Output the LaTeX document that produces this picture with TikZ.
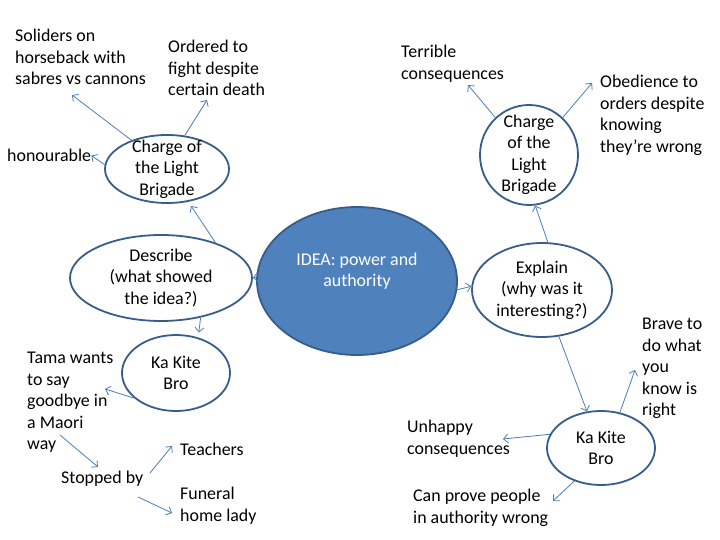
\documentclass[tikz,border=0pt]{standalone}
\usepackage{fontspec}
\setmainfont{Carlito}
\usetikzlibrary{shapes.geometric,arrows.meta}
\definecolor{ideablue}{HTML}{4F81BD}
\definecolor{rimblue}{HTML}{385D8A}
\definecolor{linkblue}{HTML}{4A7EBB}
\newcommand{\mapfont}{\fontsize{17.9}{21.5}\selectfont}
\begin{document}
\begin{tikzpicture}[x=1pt, y=-1pt,
  bubble/.style={ellipse, draw=rimblue, line width=1.8pt, fill=white, inner sep=0pt},
  lbl/.style={align=center, font=\mapfont, text=black},
  txt/.style={anchor=north west, align=left, inner sep=0pt, font=\mapfont},
  arr/.style={draw=linkblue, line width=0.8pt, -{Straight Barb[length=4.5pt,width=9pt]}}]
  \useasboundingbox (0,0) rectangle (720,540);
  \node[bubble, fill=ideablue, minimum width=200pt, minimum height=148pt,
    label={[lbl, text=white, yshift=10pt]center:IDEA: power and\\authority}] (idea) at (357,281) {};
  \node[bubble, minimum width=182pt, minimum height=86pt,
    label={[lbl]center:Describe\\(what showed\\the idea?)}] (desc) at (161,278) {};
  \node[bubble, minimum width=140pt, minimum height=94pt,
    label={[lbl]center:Explain\\(why was it\\interesting?)}] (expl) at (542,290) {};
  \node[bubble, minimum width=124pt, minimum height=68pt,
    label={[lbl]center:Charge of\\the Light\\Brigade}] (clbL) at (167,169) {};
  \node[bubble, minimum width=98pt, minimum height=100pt,
    label={[lbl]center:Charge\\of the\\Light\\Brigade}] (clbR) at (529,155) {};
  \node[bubble, minimum width=108pt, minimum height=76pt,
    label={[lbl]center:Ka Kite\\Bro}] (kkL) at (176,373) {};
  \node[bubble, minimum width=108pt, minimum height=74pt,
    label={[lbl]center:Ka Kite\\Bro}] (kkR) at (601,448) {};

  \node[txt] (sol) at (15,29) {Soliders on\\horseback with\\sabres vs cannons};
  \node[txt] (ord) at (168,40) {Ordered to\\fight despite\\certain death};
  \node[txt] (hon) at (7,149) {honourable};
  \node[txt] (ter) at (401,45) {Terrible\\consequences};
  \node[txt] (obe) at (600,75) {Obedience to\\orders despite\\knowing\\they’re wrong};
  \node[txt] (tama) at (27,352) {Tama wants\\to say\\goodbye in\\a Maori\\way};
  \node[txt] (stop) at (61,471) {Stopped by};
  \node[txt] (tea) at (180,443) {Teachers};
  \node[txt] (fun) at (180,487) {Funeral\\home lady};
  \node[txt] (brave) at (642,318) {Brave to\\do what\\you\\know is\\right};
  \node[txt] (unh) at (407,420) {Unhappy\\consequences};
  \node[txt] (can) at (413,489) {Can prove people\\in authority wrong};

  \draw[arr] (idea.178) -- (desc.east);
  \draw[arr] (idea.-5) -- (expl.177);
  \draw[arr, shorten >=5pt] (desc.33) -- (clbL.-57);
  \draw[arr, shorten >=5pt] (desc.-45) -- (kkL.58);
  \draw[arr] (clbL.141) -- ([shift={(57,66)}]sol.north west);
  \draw[arr] (clbL.62) -- ([shift={(39,60)}]ord.north west);
  \draw[arr] (clbL.176) -- (hon.east);
  \draw[arr] (kkL.211) -- ([shift={(78,37)}]tama.north west);
  \draw[arr] ([shift={(33,83)}]tama.north west) -- ([shift={(37,-4)}]stop.north west);
  \draw[arr] ([shift={(89,2)}]stop.north west) -- ([shift={(-8,3)}]tea.north west);
  \draw[arr] ([shift={(77,26)}]stop.north west) -- ([shift={(-8,26)}]fun.north west);
  \draw[arr] (expl.83) -- (clbR.-83);
  \draw[arr] (expl.-70) -- (kkR.111);
  \draw[arr] (clbR.132) -- ([shift={(67,40)}]ter.north west);
  \draw[arr] (clbR.48) -- ([shift={(-8,8)}]obe.north west);
  \draw[arr] (kkR.62) -- ([shift={(-7,52)}]brave.north west);
  \draw[arr] (kkR.165) -- ([shift={(96,19)}]unh.north west);
  \draw[arr] (kkR.-129) -- ([shift={(140,12)}]can.north west);
\end{tikzpicture}
\end{document}
